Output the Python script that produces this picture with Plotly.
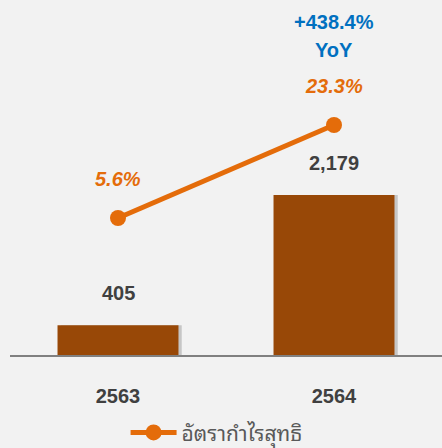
import plotly.graph_objects as go

categories = ["2563", "2564"]
net_profit = [405, 2179]
net_profit_labels = ["405", "2,179"]
margin_pct = [5.6, 23.3]
margin_labels = ["5.6%", "23.3%"]
yoy_text = "+438.4%"
yoy_sub = "YoY"
legend_name = "อัตรากำไรสุทธิ"

BAR = "#984807"
ORANGE = "#E46C0A"
BLUE = "#0070C0"
TXT = "#404040"
BG = "#F2F2F2"
FONT = "Liberation Sans, Arial, sans-serif"

fig = go.Figure()

# soft shadow behind bars
fig.add_trace(go.Bar(
    x=categories, y=net_profit, yaxis="y",
    width=0.56, offset=-0.265,
    marker=dict(color="rgba(0,0,0,0.18)", line=dict(width=0)),
    showlegend=False, hoverinfo="skip",
))
fig.add_trace(go.Bar(
    x=categories, y=net_profit, yaxis="y",
    width=0.56, offset=-0.28,
    marker=dict(color=BAR, line=dict(width=0)),
    showlegend=False,
))
fig.add_trace(go.Scatter(
    x=categories, y=margin_pct, yaxis="y2",
    mode="lines+markers", name=legend_name,
    line=dict(color=ORANGE, width=5),
    marker=dict(color=ORANGE, size=16),
))

annotations = []
# on a category axis, annotation x is given as the category index
for i, (v, t) in enumerate(zip(net_profit, net_profit_labels)):
    annotations.append(dict(
        x=i, y=v, xref="x", yref="y", yshift=32, showarrow=False,
        text=f"<b>{t}</b>", font=dict(family=FONT, size=20, color=TXT),
    ))
for i, (v, t) in enumerate(zip(margin_pct, margin_labels)):
    annotations.append(dict(
        x=i, y=v, xref="x", yref="y2", yshift=39, showarrow=False,
        text=f"<b><i>{t}</i></b>", font=dict(family=FONT, size=20, color=ORANGE),
    ))
last = len(categories) - 1
annotations.append(dict(
    x=last, y=0.965, xref="x", yref="paper", yanchor="middle", showarrow=False,
    text=f"<b>{yoy_text}</b>", font=dict(family=FONT, size=20, color=BLUE),
))
annotations.append(dict(
    x=last, y=0.884, xref="x", yref="paper", yanchor="middle", showarrow=False,
    text=f"<b>{yoy_sub}</b>", font=dict(family=FONT, size=20, color=BLUE),
))

fig.update_layout(
    width=442, height=448,
    margin=dict(l=10, r=0, t=10, b=93),
    paper_bgcolor=BG, plot_bgcolor=BG,
    barmode="overlay",
    font=dict(family=FONT, color=TXT),
    xaxis=dict(
        type="category", range=[-0.5, 1.5], autorange=False,
        showgrid=False, zeroline=False,
        showline=True, linecolor="#808080", linewidth=2,
        ticks="", ticklabelstandoff=22,
        tickfont=dict(family=FONT, size=20, color=TXT),
        tickprefix="<b>", ticksuffix="</b>",
        fixedrange=True,
    ),
    yaxis=dict(range=[0, 4698], visible=False, showgrid=False, zeroline=False),
    yaxis2=dict(range=[-20.47, 45.19], overlaying="y", visible=False,
                showgrid=False, zeroline=False),
    showlegend=True,
    legend=dict(
        orientation="h", xref="container", yref="container",
        x=0.49, xanchor="center", y=0.034, yanchor="middle",
        itemwidth=46,
        font=dict(family="Noto Sans Thai Looped, Noto Serif Thai, Tahoma, Noto Sans Thai, sans-serif",
                  size=21, color="#595959"),
        bgcolor="rgba(0,0,0,0)",
    ),
    annotations=annotations,
)

fig.write_html(
    "out.html",
    config={"displayModeBar": False},
    post_script="document.body.style.margin='0';document.body.style.background='#F2F2F2';",
)
